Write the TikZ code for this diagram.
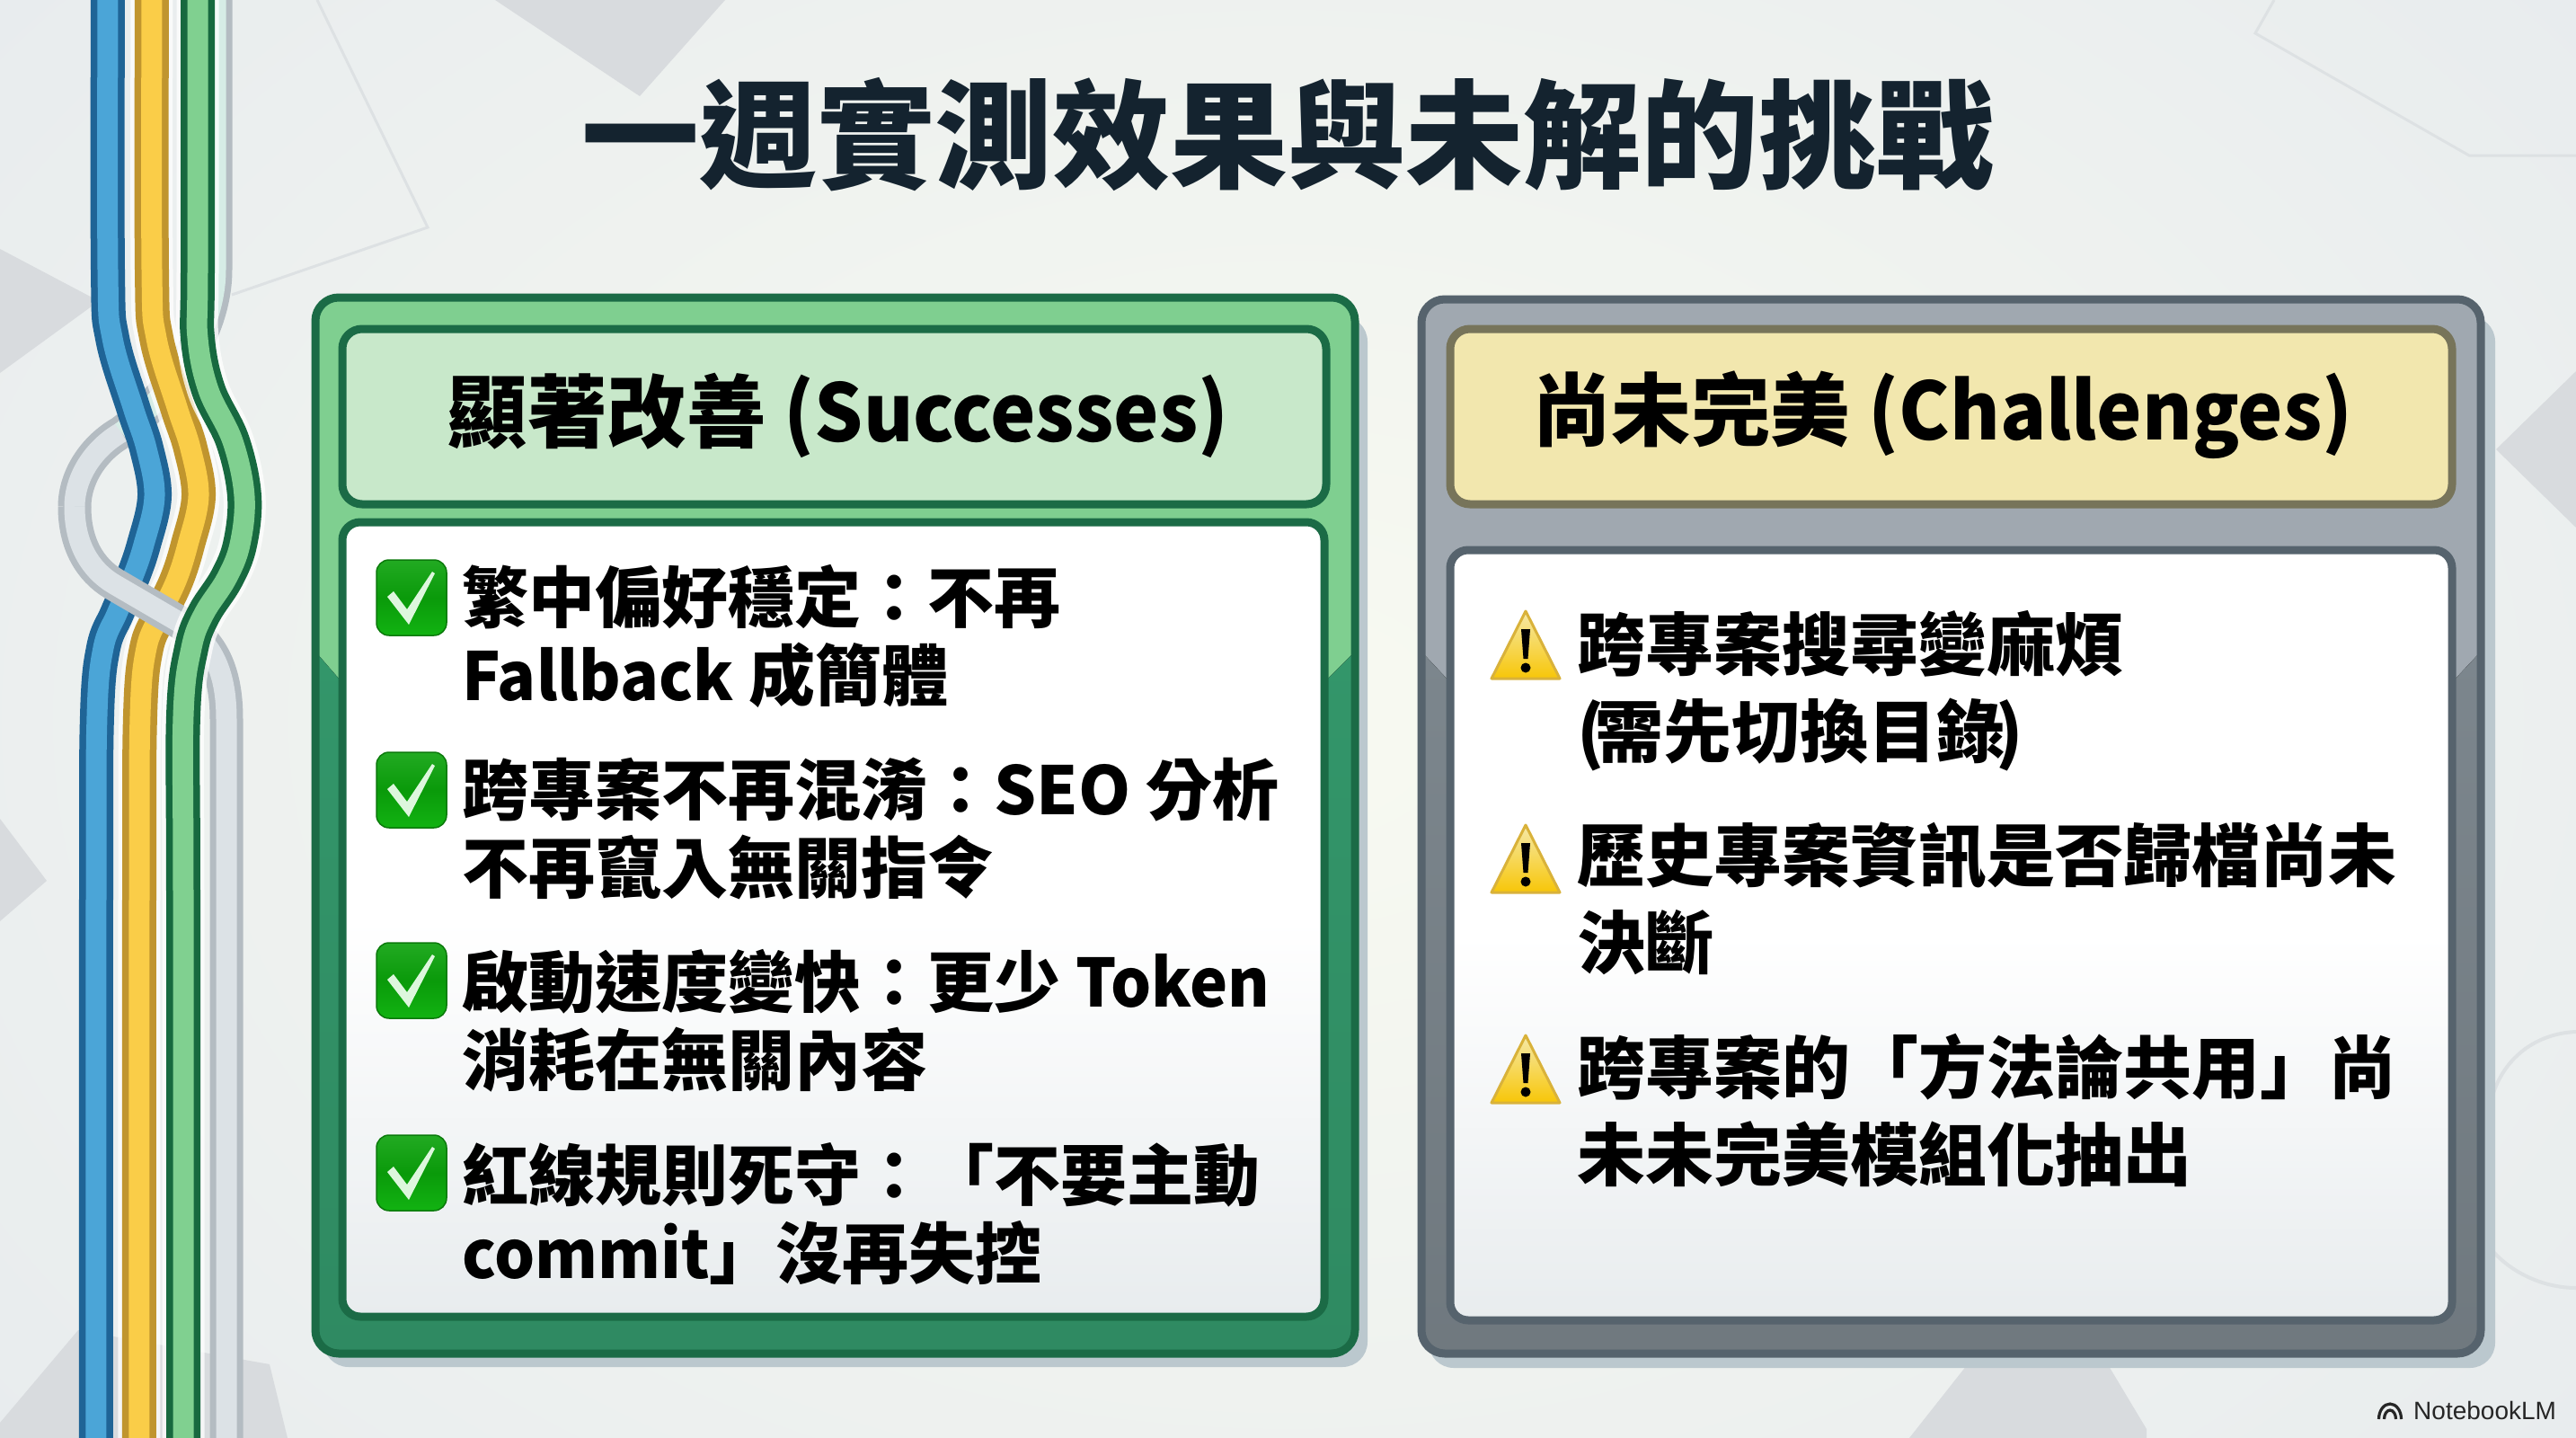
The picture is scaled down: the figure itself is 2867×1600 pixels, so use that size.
\documentclass[tikz,border=0pt]{standalone}
\usepackage{fontspec}
\setmainfont{Noto Sans CJK TC Black}
\newfontfamily\latn{Noto Sans CJK TC Black}[FakeStretch=0.96]
\newfontfamily\logofont{Liberation Sans}
\definecolor{inkdark}{HTML}{14232F}
\definecolor{gdark}{HTML}{1B6B46}
\definecolor{glight}{HTML}{7FCF90}
\definecolor{gmid}{HTML}{33966A}
\definecolor{ghead}{HTML}{C8E8CA}
\definecolor{sdark}{HTML}{56636D}
\definecolor{slight}{HTML}{A0A8B0}
\definecolor{smid}{HTML}{7C868D}
\definecolor{yhead}{HTML}{F2E7AE}
\definecolor{ydark}{HTML}{77745A}
\definecolor{bgedge}{HTML}{E8ECEE}
\definecolor{bgmid}{HTML}{F8FAF1}
\definecolor{facet}{HTML}{D8DBDE}
\definecolor{bgline}{HTML}{DDE1E3}
\definecolor{shadowc}{HTML}{BBC8CE}
\definecolor{bluedark}{HTML}{1F6496}
\definecolor{bluefill}{HTML}{4BA5D7}
\definecolor{yeldark}{HTML}{C0952E}
\definecolor{yelfill}{HTML}{FACD48}
\definecolor{ribgdark}{HTML}{17693F}
\definecolor{ribgfill}{HTML}{80D090}
\definecolor{graydark}{HTML}{B4BCC2}
\definecolor{grayfill}{HTML}{DCE2E6}
\definecolor{graytop}{HTML}{D6ECE6}
\definecolor{okline}{HTML}{0B7A0B}
\definecolor{oktop}{HTML}{22AA22}
\definecolor{okmid}{HTML}{0A9A0A}
\definecolor{okbot}{HTML}{12B312}
\definecolor{warntop}{HTML}{F6E9A8}
\definecolor{warnbot}{HTML}{F7C608}
\definecolor{warnline}{HTML}{D9B23A}
\definecolor{tickc}{HTML}{DDF7DD}
\tikzset{
  x=1pt,y=-1pt,
  bodytext/.style={anchor=west,align=left,inner sep=0pt,text=black},
  leftbody/.style={bodytext,font=\fontsize{74}{87}\selectfont},
  rightbody/.style={bodytext,font=\fontsize{76}{97}\selectfont},
  headtext/.style={inner sep=0pt,text=black,font=\fontsize{88.5}{100}\selectfont},
  okbox/.style={draw=okline,line width=1.5pt,rounded corners=14pt,top color=oktop,bottom color=okbot,middle color=okmid},
  ribbonpath/.style={smooth,tension=.6},
  graywide/.style={graydark,line width=37pt},
  graythin/.style={grayfill,line width=23pt},
}
\newcommand{\ribbon}[3]{%
  \draw[#1,line width=38pt] plot[ribbonpath] coordinates {#3};
  \draw[#2,line width=23pt] plot[ribbonpath] coordinates {#3};}
\newcommand{\halo}[1]{\draw[white,opacity=.75,line width=47pt] plot[ribbonpath] coordinates {#1};}
\newcommand{\okmark}[2]{%
  \node[okbox,minimum width=78pt,minimum height=84pt,inner sep=0pt] (#1) at (458,#2) {};
  \fill[tickc] ([shift={(-27,-1)}]#1.center) -- ([shift={(-20,-7)}]#1.center) -- ([shift={(-5,13)}]#1.center) -- ([shift={(23,-29)}]#1.center) -- ([shift={(26,-27)}]#1.center) -- ([shift={(-3,30)}]#1.center) -- cycle;}
\newcommand{\warnmark}[2]{%
  \coordinate (#1) at (1698,#2);
  \fill[draw=warnline,line width=3pt,line join=round,top color=warntop,bottom color=warnbot] ([shift={(0,-37)}]#1) -- ([shift={(38,38)}]#1) -- ([shift={(-38,38)}]#1) -- cycle;
  \fill[black] ([shift={(-5,-17)}]#1) -- ([shift={(5,-17)}]#1) -- ([shift={(2.5,16)}]#1) -- ([shift={(-2.5,16)}]#1) -- cycle;
  \fill[black] ([shift={(0,26)}]#1) circle (5.5pt);}
\begin{document}
\begin{tikzpicture}
\useasboundingbox (0,0) rectangle (2867,1600);
% background
\shade[inner color=bgmid,outer color=bgedge] (-400,-500) rectangle (3267,2100);
\fill[facet] (551,0) -- (712,107) -- (807,0) -- cycle;
\fill[facet] (0,277) -- (110,335) -- (0,415) -- cycle;
\fill[facet] (0,911) -- (52,980) -- (0,1025) -- cycle;
\fill[facet] (0,1600) -- (0,1583) -- (87,1480) -- (300,1518) -- (320,1600) -- cycle;
\fill[facet] (2125,1600) -- (2204,1500) -- (2335,1500) -- (2389,1590) -- (2389,1600) -- cycle;
\fill[facet] (2778,500) -- (2867,413) -- (2867,587) -- cycle;
\draw[bgline,line width=3pt] (353,0) -- (476,253) -- (258,328);
\draw[bgline,line width=3pt] (2531,0) -- (2510,37) -- (2748,173) -- (2867,173);
\draw[bgline,line width=4pt] (2770,1235) .. controls (2780,1180) and (2820,1150) .. (2867,1148);
\draw[bgline,line width=4pt] (2767,1383) .. controls (2790,1415) and (2830,1433) .. (2867,1433);
% ribbons
\draw[graywide] (240,-10) -- (240,300) .. controls (240,370) and (190,440) .. (135,481) .. controls (105,498) and (83,530) .. (83,564);
\draw[graythin] (135,481) .. controls (105,498) and (83,530) .. (83,564);
\draw[graytop,line width=23pt] (240,-10) -- (240,300) .. controls (240,370) and (190,440) .. (135,481);
\ribbon{bluedark}{bluefill}{(120,-10) (120,300) (125,376) (148,453) (163,499) (172,552) (160,606) (147,644) (130,683) (115,721) (108,797) (107,1000) (107,1610)}
\halo{(169,-10) (169,300) (174,376) (197,453) (212,499) (221,552) (209,606) (197,644) (179,683) (163,721) (156,797) (155,1000) (155,1610)}
\ribbon{yeldark}{yelfill}{(169,-10) (169,300) (174,376) (197,453) (212,499) (221,552) (209,606) (197,644) (179,683) (163,721) (156,797) (155,1000) (155,1610)}
\draw[graywide] (83,564) .. controls (83,605) and (100,634) .. (127,650) -- (199,692) .. controls (235,713) and (252,745) .. (252,800) -- (252,1610);
\draw[graythin] (83,564) .. controls (83,605) and (100,634) .. (127,650) -- (199,692) .. controls (235,713) and (252,745) .. (252,800) -- (252,1610);
\halo{(220,-10) (220,300) (220,376) (232,434) (259,491) (272,552) (267,606) (252,644) (227,683) (213,721) (204,797) (204,1000) (204,1610)}
\ribbon{ribgdark}{ribgfill}{(220,-10) (220,300) (220,376) (232,434) (259,491) (272,552) (267,606) (252,644) (227,683) (213,721) (204,797) (204,1000) (204,1610)}
% title
\node[inner sep=0pt,text=inkdark,font=\fontsize{131}{150}\selectfont] (title) at (1433,150) {一週實測效果與未解的挑戰};
% left panel
\fill[rounded corners=28pt,fill=shadowc] (360,352) rectangle (1522,1521);
\begin{scope}
\clip[rounded corners=26pt] (351,331) rectangle (1508,1506);
\fill[glight] (351,331) rectangle (1508,1506);
\fill[bottom color=gmid!92!black,top color=gmid] (351,725) -- (377,755) -- (1478,755) -- (1508,725) -- (1508,1506) -- (351,1506) -- cycle;
\end{scope}
\draw[gdark,line width=9pt,rounded corners=26pt] (351,331) rectangle (1508,1506);
\draw[gdark,line width=9pt,rounded corners=22pt,fill=ghead] (381,366) rectangle (1476,561);
\draw[gdark,line width=9pt,rounded corners=20pt,top color=white,bottom color=bgedge,middle color=white] (381,581) rectangle (1474,1465);
\node[headtext] (lhead) at (933,462) {顯著改善 {\latn (Successes)}};
\okmark{c1}{665}
\okmark{c2}{879}
\okmark{c3}{1091}
\okmark{c4}{1305}
\node[leftbody] (l1) at (514,708) {繁中偏好穩定：不再\\{\latn Fallback} 成簡體};
\node[leftbody] (l2) at (514,922) {跨專案不再混淆：SEO 分析\\不再竄入無關指令};
\node[leftbody] (l3) at (514,1136) {啟動速度變快：更少 {\latn Token}\\消耗在無關內容};
\node[leftbody] (l4) at (514,1351) {紅線規則死守：「不要主動\\{\latn commit}」沒再失控};
% right panel
\fill[rounded corners=28pt,fill=shadowc] (1590,352) rectangle (2777,1522);
\begin{scope}
\clip[rounded corners=26pt] (1582,333) rectangle (2761,1506);
\fill[slight] (1582,333) rectangle (2761,1506);
\fill[top color=smid,bottom color=smid!90!black] (1582,725) -- (1610,755) -- (2733,755) -- (2761,725) -- (2761,1506) -- (1582,1506) -- cycle;
\end{scope}
\draw[sdark,line width=9pt,rounded corners=26pt] (1582,333) rectangle (2761,1506);
\draw[ydark,line width=9pt,rounded corners=22pt,fill=yhead] (1614,366) rectangle (2729,561);
\draw[sdark,line width=9pt,rounded corners=20pt,top color=white,bottom color=bgedge,middle color=white] (1614,612) rectangle (2729,1469);
\node[headtext] (rhead) at (2162,462) {尚未完美 {\latn (Challenges)}};
\warnmark{w1}{717}
\warnmark{w2}{955}
\warnmark{w3}{1189}
\node[rightbody] (r1) at (1755,769) {跨專案搜尋變麻煩\\(\kern-10pt需先切換目錄\kern-10pt)};
\node[rightbody] (r2) at (1755,1000) {歷史專案資訊是否歸檔尚未\\決斷};
\node[rightbody] (r3) at (1755,1236) {跨專案的「方法論共用」尚\\未未完美模組化抽出};
% logo
\node[anchor=west,inner sep=0pt,text=black!85,font=\logofont\fontsize{28}{30}\selectfont] (logo) at (2686,1569) {NotebookLM};
\draw[black!85,line width=3.2pt] (2647.5,1579) arc[start angle=180,end angle=360,x radius=12.5,y radius=17];
\draw[black!85,line width=3.2pt] (2653.5,1579) arc[start angle=180,end angle=360,x radius=6.5,y radius=10];
\end{tikzpicture}
\end{document}
